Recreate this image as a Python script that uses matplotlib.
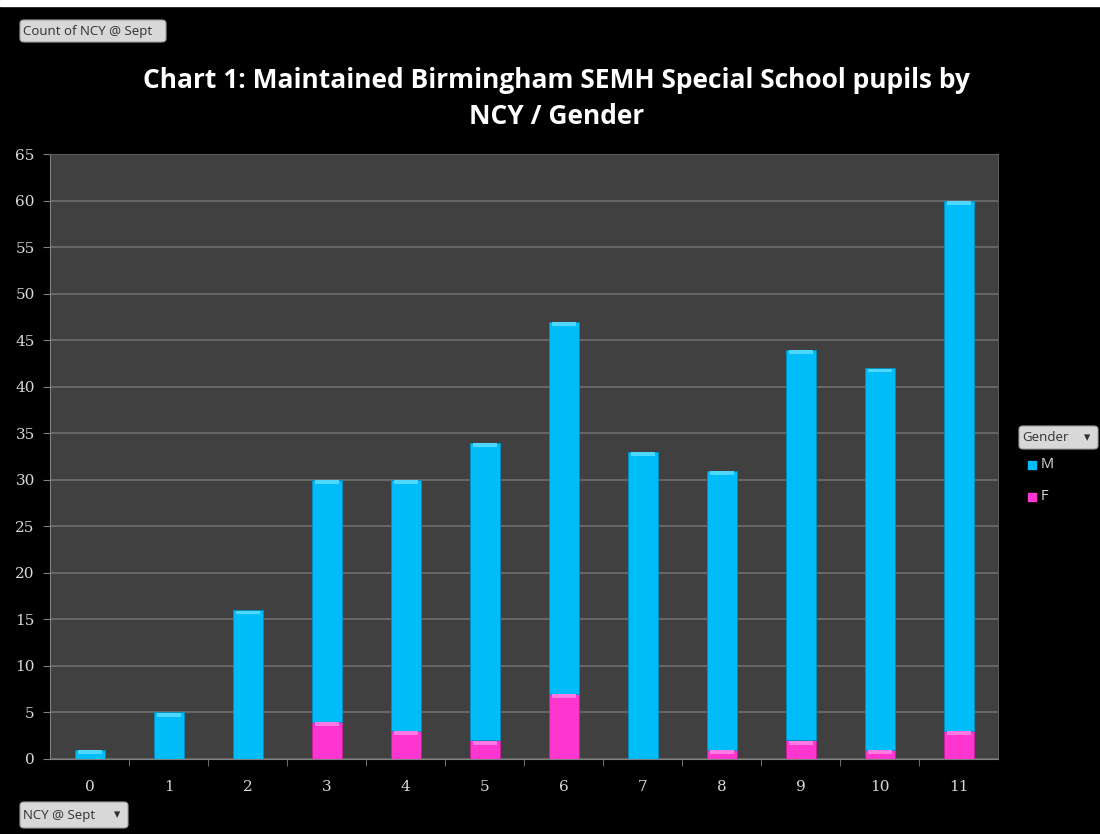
import numpy as np
import matplotlib.pyplot as plt
from matplotlib.patches import FancyBboxPatch

# === Data ===
ncy = ['0', '1', '2', '3', '4', '5', '6', '7', '8', '9', '10', '11']
female = [0, 0, 0, 4, 3, 2, 7, 0, 1, 2, 1, 3]
male = [1, 5, 16, 26, 27, 32, 40, 33, 30, 42, 41, 57]
y_ticks = list(range(0, 70, 5))

CYAN = '#00bcf8'
CYAN_HI = '#4fd8ff'
PINK = '#ff35d0'
PINK_HI = '#ff7ae2'
TXT = '#d9d9d9'

fig = plt.figure(figsize=(11, 8.34), dpi=100, facecolor='black')
# thin white strip at top like the screenshot
fig.patches.append(plt.Rectangle((0, 0.993), 1, 0.007, transform=fig.transFigure,
                                 color='white', zorder=0))

ax = fig.add_axes([0.0455, 0.09, 0.862, 0.725])
ax.set_facecolor('#404040')

x = np.arange(len(ncy))
w = 0.38
f = np.array(female)
m = np.array(male)

ax.bar(x, f, w, color=PINK, edgecolor='#c81fa0', lw=0.6, zorder=3)
ax.bar(x, m, w, bottom=f, color=CYAN, edgecolor='#0090c0', lw=0.6, zorder=3)

# bevel highlight on top of each segment
hi = 0.4
for xi, fv, mv in zip(x, f, m):
    if fv > 0:
        ax.bar(xi, min(hi, fv), w * 0.8, bottom=fv - min(hi, fv) - 0.05, color=PINK_HI,
               lw=0, zorder=4)
    if mv > 0:
        ax.bar(xi, min(hi, mv), w * 0.8, bottom=fv + mv - min(hi, mv) - 0.05, color=CYAN_HI,
               lw=0, zorder=4)

ax.set_xlim(-0.5, len(ncy) - 0.5)
ax.set_ylim(0, 65)
ax.set_yticks(y_ticks)
ax.set_yticklabels([str(v) for v in y_ticks], color=TXT, fontsize=11,
                   family='DejaVu Serif')
ax.set_xticks(x)
ax.set_xticklabels(ncy, color=TXT, fontsize=11, family='DejaVu Serif')
ax.tick_params(axis='x', length=0, pad=15)
ax.set_xticks(np.arange(0.5, len(ncy) - 0.5, 1), minor=True)
ax.tick_params(axis='x', which='minor', length=5, color='#808080', direction='out')
ax.tick_params(axis='y', length=5, color='#808080', pad=6)
ax.grid(axis='y', color='#6e6e6e', lw=1.2, zorder=1)
for side in ['top', 'right']:
    ax.spines[side].set_color('#5a5a5a')
for side in ['left', 'bottom']:
    ax.spines[side].set_color('#808080')

fig.text(0.506, 0.882, 'Chart 1: Maintained Birmingham SEMH Special School pupils by\nNCY / Gender',
         ha='center', va='center', color='white', fontsize=19, fontweight='bold',
         family='Open Sans', linespacing=1.4)


def button(x0, y0, w0, h0, label, arrow=False):
    # pixel coordinates from top-left
    box = FancyBboxPatch((x0 / 1100, 1 - (y0 + h0) / 834), w0 / 1100, h0 / 834,
                         boxstyle='round,pad=0,rounding_size=0.004',
                         transform=fig.transFigure, facecolor='#d8d8d8',
                         edgecolor='#a0a0a0', lw=0.8, zorder=5)
    fig.patches.append(box)
    fig.text((x0 + 3) / 1100, 1 - (y0 + h0 / 2) / 834, label, ha='left', va='center',
             fontsize=9.5, color='#303030', family='Open Sans', zorder=6)
    if arrow:
        fig.text((x0 + w0 - 11) / 1100, 1 - (y0 + h0 / 2) / 834, '\u25be', ha='center',
                 va='center', fontsize=9, color='#303030', zorder=6)


button(20, 20, 146, 22, 'Count of NCY @ Sept')
button(1019, 426, 79, 23, 'Gender', arrow=True)
button(20, 802, 108, 26, 'NCY @ Sept', arrow=True)

# legend entries
for lbl, col, yp in [('M', CYAN, 465), ('F', PINK, 497)]:
    fig.patches.append(plt.Rectangle((1028 / 1100, 1 - (yp + 4) / 834), 8 / 1100, 8 / 834,
                                     transform=fig.transFigure, color=col, zorder=5))
    fig.text(1041 / 1100, 1 - yp / 834, lbl, ha='left', va='center', fontsize=10.5,
             color=TXT, family='Open Sans')

fig.savefig('out.png', dpi=100, facecolor='black')
